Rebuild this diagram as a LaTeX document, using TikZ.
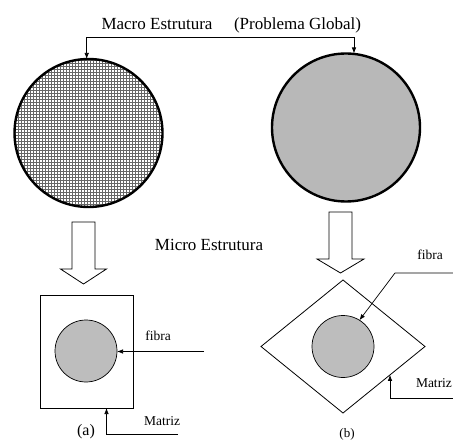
\documentclass[tikz,border=0pt]{standalone}
\usepackage{fontspec}
\setmainfont{Liberation Serif}
\usetikzlibrary{arrows.meta,calc}
\begin{document}
\begin{tikzpicture}[x=1pt,y=-1pt,
  every node/.style={inner sep=0pt, outer sep=0pt},
  big/.style={circle, draw, line width=2.4pt, minimum size=148pt},
  fib/.style={circle, draw, line width=0.7pt, fill=black!26, minimum size=62pt},
  cell/.style={draw, line width=0.8pt},
  lbl/.style={font=\fontsize{13.5}{14}\selectfont, anchor=base},
  ttl/.style={font=\fontsize{17}{18}\selectfont, anchor=base},
  conn/.style={line width=0.7pt, -{Latex[length=6pt,width=4.5pt]}},
  hollow/.style={draw, line width=0.8pt, fill=white}]
\useasboundingbox (0,0) rectangle (453,441);

% title
\node[ttl] (t1) at (157,29.3) {Macro Estrutura};
\node[ttl] (t2) at (297.5,29.3) {(Problema Global)};

% left macro circle with grid
\begin{scope}
  \clip (88.5,133) circle (74);
  \draw[line width=0.25pt, black!60, step=3pt] (10,55) grid (170,212);
\end{scope}
\node[big] (L) at (88.5,133) {};

% right macro circle
\node[big, fill=black!28] (R) at (346,127.5) {};

% top connector
\coordinate (tl) at (86.7,37.3);
\coordinate (tr) at (354,37.3);
\draw[line width=0.7pt, {Latex[length=6pt,width=4.5pt]}-{Latex[length=6pt,width=4.5pt]}]
  (tl |- L.north) -- (tl) -- (tr) -- (tr |- R.north);

% hollow arrows
\draw[hollow] (72,222) -- (95,222) -- (95,269) -- (106.5,269) -- (83.5,284)
  -- (60.5,269) -- (72,269) -- cycle;
\draw[hollow] (329,212) -- (352,212) -- (352,259) -- (364,259) -- (340.5,273)
  -- (317,259) -- (329,259) -- cycle;

\node[ttl] (micro) at (209,250.7) {Micro Estrutura};

% cell (a)
\node[cell, minimum width=93pt, minimum height=113pt] (A) at (86.5,351.5) {};
\node[fib] (fa) at (86,351) {};
\coordinate (fa0) at (204,351.5);
\draw[conn] (fa0) -- (fa0 -| fa.east);
\node[lbl] (fibA) at (158,340.7) {fibra};
\coordinate (ma0) at (178,434);
\coordinate (ma1) at (106.5,434);
\draw[conn] (ma0) -- (ma1) -- (ma1 |- A.south);
\node[lbl] (matA) at (162,425.5) {Matriz};
\node[font=\fontsize{16}{17}\selectfont, anchor=base] (la) at (86,435) {(a)};

% cell (b)
\coordinate (dT) at (343,280);
\coordinate (dL) at (261,346.5);
\coordinate (dR) at (425,346.5);
\coordinate (dB) at (343,413);
\draw[line width=0.8pt] (dT) -- (dR) -- (dB) -- (dL) -- cycle;
\node[fib] (fb) at (343,346.5) {};
\coordinate (fb0) at (453,273);
\coordinate (fb1) at (395,273);
\draw[conn] (fb0) -- (fb1) -- (fb.58);
\node[lbl] (fibB) at (430,259.5) {fibra};
\coordinate (mbt) at ($(dR)!0.4268!(dB)$);
\coordinate (mb0) at (453,398);
\coordinate (mb1) at (mbt |- mb0);
\draw[conn] (mb0) -- (mb1) -- (mbt);
\node[lbl, anchor=base west] (matB) at (416,387) {Matriz};
\node[font=\fontsize{13}{14}\selectfont, anchor=base] (lb) at (347,437) {(b)};
\end{tikzpicture}
\end{document}
